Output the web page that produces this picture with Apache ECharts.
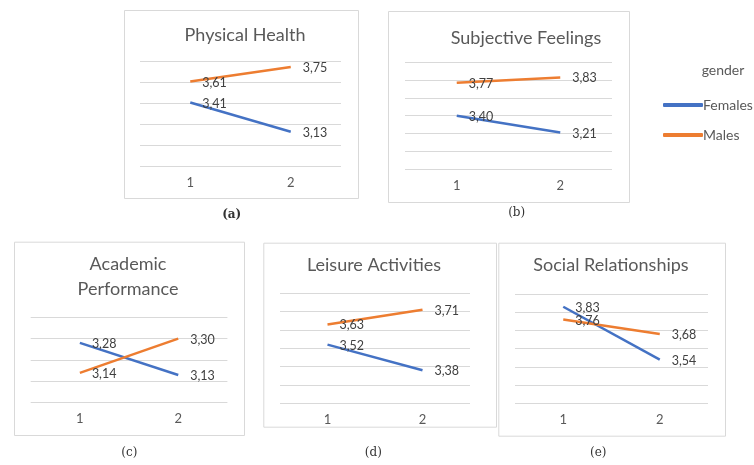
<!DOCTYPE html>
<html><head><meta charset="utf-8">
<script src="https://cdn.jsdelivr.net/npm/echarts@6/dist/echarts.min.js"></script>
<style>html,body{margin:0;padding:0;background:#fff}#c{width:754px;height:465px}</style>
</head><body><div id="c"></div>
<script>
const categories = ['1', '2'];
const panelTitles = ['Physical Health', 'Subjective Feelings', 'Academic\nPerformance', 'Leisure Activities', 'Social Relationships'];
const captions = ['(a)', '(b)', '(c)', '(d)', '(e)'];
const females = [[3.41, 3.13], [3.40, 3.21], [3.28, 3.13], [3.52, 3.38], [3.83, 3.54]];
const males = [[3.61, 3.75], [3.77, 3.83], [3.14, 3.30], [3.63, 3.71], [3.76, 3.68]];
const yMin = [2.8, 2.8, 3.0, 3.2, 3.3];
const yMax = [3.8, 4.0, 3.4, 3.8, 3.9];
const yStep = [0.2, 0.2, 0.1, 0.1, 0.1];
const seriesNames = ['Females', 'Males'];
const legendTitle = 'gender';

const colors = ['#4472C4', '#ED7D31'];
const grids = [
  {left: 140, top: 61.7, width: 201, height: 104.6},
  {left: 405, top: 62.3, width: 207, height: 106.7},
  {left: 30.7, top: 317.3, width: 196.7, height: 85.4},
  {left: 280, top: 293.3, width: 190, height: 110},
  {left: 515, top: 294, width: 193, height: 109.3}
];
const boxes = [
  [124, 10, 234, 188], [388, 11, 241, 191], [14, 241.7, 230, 193.3], [263.3, 242.7, 232.7, 184], [498.3, 242.7, 226.7, 193]
];
const titlePos = [[245, 35], [526, 38], [128, 276.5], [374, 265], [611, 265]];
const capPos = [[231.7, 215, 'bold'], [516.7, 213, 'normal'], [129.3, 453, 'normal'], [373.3, 453, 'normal'], [598.3, 453, 'normal']];

const fmt = p => p.value.toFixed(2).replace('.', ',');
const graphics = [];
boxes.forEach(b => graphics.push({type: 'rect', shape: {x: b[0] + 0.5, y: b[1] + 0.5, width: b[2], height: b[3]}, style: {fill: '#fff', stroke: '#d9d9d9', lineWidth: 1}, z: -10}));
panelTitles.forEach((t, i) => graphics.push({type: 'text', x: titlePos[i][0], y: titlePos[i][1], style: {text: t, fill: '#595959', font: '18px Lato', textAlign: 'center', textVerticalAlign: 'middle', lineHeight: 25}}));
captions.forEach((t, i) => graphics.push({type: 'text', x: capPos[i][0], y: capPos[i][1], style: {text: t, fill: '#333', font: capPos[i][2] + ' 12px "DejaVu Serif"', textAlign: 'center', textVerticalAlign: 'middle'}}));
graphics.push({type: 'text', x: 723, y: 70, style: {text: legendTitle, fill: '#595959', font: '14px Lato', textAlign: 'center', textVerticalAlign: 'middle'}});

const xAxis = [], yAxis = [], series = [];
grids.forEach((g, i) => {
  xAxis.push({type: 'category', gridIndex: i, data: categories, boundaryGap: true,
    axisLine: {show: false}, axisTick: {show: false},
    axisLabel: {color: '#595959', fontSize: 13, fontFamily: 'Lato', margin: 10}});
  yAxis.push({type: 'value', gridIndex: i, min: yMin[i], max: yMax[i], interval: yStep[i],
    axisLine: {show: false}, axisTick: {show: false}, axisLabel: {show: false},
    splitLine: {show: true, lineStyle: {color: '#d9d9d9', width: 1}}});
  [females, males].forEach((d, k) => series.push({
    type: 'line', name: seriesNames[k], xAxisIndex: i, yAxisIndex: i, data: d[i],
    symbol: 'circle', symbolSize: 0, showSymbol: true, color: colors[k], lineStyle: {width: 2.5, color: colors[k]},
    label: {show: true, position: 'right', distance: 12, offset: [0, 1], formatter: fmt, color: '#404040', fontSize: 12.5, fontFamily: 'Lato'},
    animation: false, silent: true
  }));
});

const chart = echarts.init(document.getElementById('c'), null, {renderer: 'canvas'});
chart.setOption({
  animation: false,
  grid: grids,
  xAxis, yAxis, series,
  legend: {orient: 'vertical', left: 658, top: 93, itemWidth: 40, itemHeight: 4, itemGap: 16, icon: 'roundRect',
    data: seriesNames, textStyle: {color: '#595959', fontSize: 14, fontFamily: 'Lato', padding: [0, 0, 0, -5]}, selectedMode: false},
  graphic: graphics
});
</script></body></html>
